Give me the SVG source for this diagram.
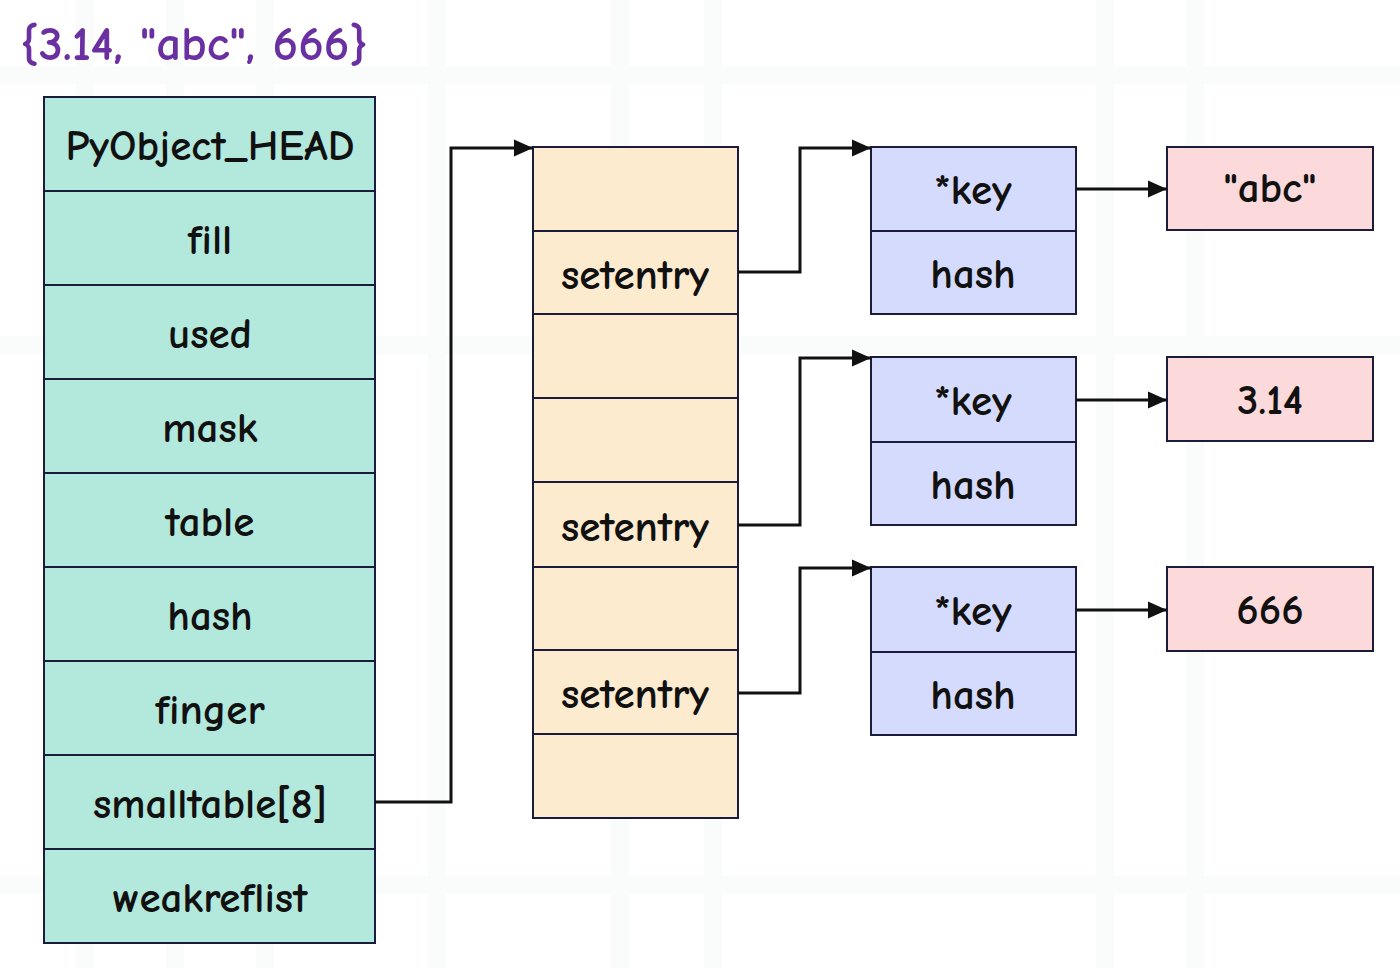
<svg xmlns="http://www.w3.org/2000/svg" width="1400" height="968" viewBox="0 0 1400 968">
<style>
.t{font-family:"Comic Neue","Comic Sans MS","Liberation Sans",sans-serif;font-size:43px;font-weight:bold;fill:#111;text-anchor:middle;dominant-baseline:central}
.mint{fill:#b3e8dc;stroke:#1b1b3c;stroke-width:2}
.peach{fill:#fdebd0;stroke:#1b1b3c;stroke-width:2}
.blue{fill:#d5dbfc;stroke:#1b1b3c;stroke-width:2}
.pink{fill:#fcd9da;stroke:#1b1b3c;stroke-width:2}
.div{stroke:#1b1b3c;stroke-width:2}
.c{fill:none;stroke:#111;stroke-width:3}
.grid{stroke:#fafbfb;stroke-width:18}
</style>
<defs>
<marker id="ah" viewBox="0 0 18 16" refX="18" refY="8" markerWidth="6.5" markerHeight="5.8" markerUnits="strokeWidth" orient="auto">
<path d="M0,0 L18,8 L0,16 Z" fill="#111"/>
</marker>
</defs>
<rect width="1400" height="968" fill="#ffffff"/>
<g id="grid">
<path class="grid" d="M85 0V968M175 0V968M265 0V968M437 0V968M620 0V968M713 0V968M1105 0V968M1195 0V968M0 75H1400M0 345H1400M0 885H1400"/>
</g>
<text id="title" x="20" y="44" style="font-family:'Comic Neue','Comic Sans MS','Liberation Sans',sans-serif;font-size:49px;font-weight:bold;fill:#6a2fa0;dominant-baseline:central">{3.14, "abc", 666}</text>
<g id="setobject">
<rect class="mint" x="44" y="97" width="331" height="846"/>
<path class="div" d="M44 191H375M44 285H375M44 379H375M44 473H375M44 567H375M44 661H375M44 755H375M44 849H375"/>
<text class="t" x="210" y="146">PyObject_HEAD</text>
<text class="t" x="210" y="240">fill</text>
<text class="t" x="210" y="334">used</text>
<text class="t" x="210" y="428">mask</text>
<text class="t" x="210" y="522">table</text>
<text class="t" x="210" y="616">hash</text>
<text class="t" x="210" y="710">finger</text>
<text class="t" x="210" y="804">smalltable[8]</text>
<text class="t" x="210" y="898">weakreflist</text>
</g>
<g id="smalltable">
<rect class="peach" x="533" y="147" width="205" height="671"/>
<path class="div" d="M533 231H738M533 314H738M533 398H738M533 482H738M533 567H738M533 650H738M533 734H738"/>
<text class="t" x="635" y="275">setentry</text>
<text class="t" x="635" y="527">setentry</text>
<text class="t" x="635" y="694">setentry</text>
</g>
<g id="entry1">
<rect class="blue" x="871" y="147" width="205" height="167"/>
<path class="div" d="M871 231H1076"/>
<text class="t" x="973" y="190">*key</text>
<text class="t" x="973" y="274">hash</text>
</g>
<g id="entry2">
<rect class="blue" x="871" y="357" width="205" height="168"/>
<path class="div" d="M871 442H1076"/>
<text class="t" x="973" y="401">*key</text>
<text class="t" x="973" y="485">hash</text>
</g>
<g id="entry3">
<rect class="blue" x="871" y="567" width="205" height="168"/>
<path class="div" d="M871 652H1076"/>
<text class="t" x="973" y="611">*key</text>
<text class="t" x="973" y="695">hash</text>
</g>
<g id="val-abc">
<rect class="pink" x="1167" y="147" width="206" height="83"/>
<text class="t" x="1270" y="188">"abc"</text>
</g>
<g id="val-314">
<rect class="pink" x="1167" y="357" width="206" height="84"/>
<text class="t" x="1270" y="400">3.14</text>
</g>
<g id="val-666">
<rect class="pink" x="1167" y="567" width="206" height="84"/>
<text class="t" x="1270" y="610">666</text>
</g>
<g id="connectors">
<path class="c" marker-end="url(#ah)" d="M375 802H451V148H533"/>
<path class="c" marker-end="url(#ah)" d="M738 272H800V148H871"/>
<path class="c" marker-end="url(#ah)" d="M738 525H800V358H871"/>
<path class="c" marker-end="url(#ah)" d="M738 693H800V568H871"/>
<path class="c" marker-end="url(#ah)" d="M1076 189H1167"/>
<path class="c" marker-end="url(#ah)" d="M1076 400H1167"/>
<path class="c" marker-end="url(#ah)" d="M1076 610H1167"/>
</g>
</svg>
